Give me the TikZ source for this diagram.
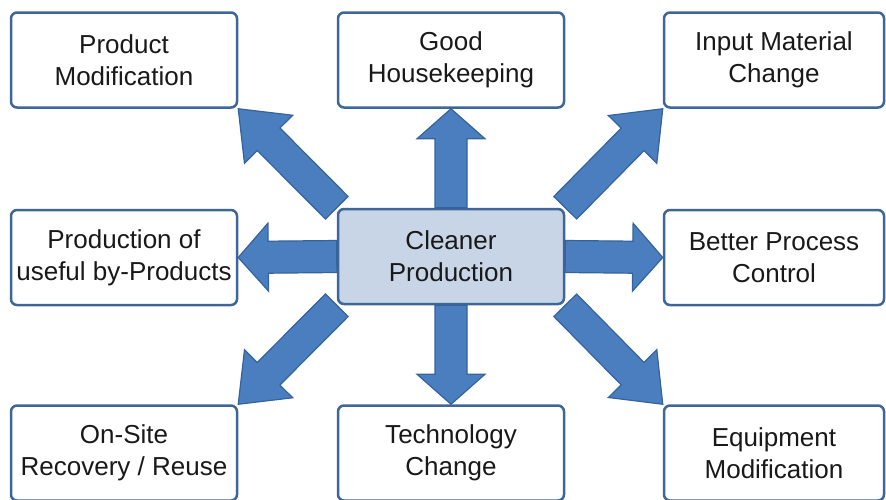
\documentclass[tikz,border=0pt]{standalone}
\usepackage{fontspec}
\setmainfont{Liberation Sans}
\usetikzlibrary{calc}

\definecolor{boxline}{HTML}{3E6699}
\definecolor{arrowfill}{HTML}{4A7EBF}
\definecolor{arrowline}{HTML}{35639B}
\definecolor{corefill}{HTML}{C8D5E7}

% fat block arrow: [head length]{tail}{tip}
\newcommand{\blockarrow}[3][30]{%
  \path ($(#3)!#1pt!(#2)$) coordinate (hb);
  \filldraw[fat arrow] ($(#2)!16pt!90:(#3)$) -- ($(hb)!16pt!-90:(#2)$)
    -- ($(hb)!34pt!-90:(#2)$) -- (#3) -- ($(hb)!34pt!90:(#2)$)
    -- ($(hb)!16pt!90:(#2)$) -- ($(#2)!16pt!-90:(#3)$) -- cycle;
}

\begin{document}
\begin{tikzpicture}[x=1pt, y=-1pt,
  box/.style={draw=boxline, line width=2.5pt, rounded corners=6pt, fill=white,
    minimum width=226pt, minimum height=95pt, inner sep=0pt, align=center,
    font=\fontsize{26}{32}\selectfont, text=black!90},
  rightbox/.style={minimum width=220pt},
  core/.style={box, fill=corefill},
  fat arrow/.style={fill=arrowfill, draw=arrowline, line width=1.2pt, line join=miter}]
  \useasboundingbox (0,0) rectangle (886,499);
  \clip (0,0) rectangle (886,499);

  \node[box] (prod_mod) at (124,60) {Product\\Modification};
  \node[box] (good_house) at (451,60) {Good\\Housekeeping};
  \node[box, rightbox] (input_mat) at (774,60) {Input Material\\Change};

  \node[box] (by_prod) at (124,257.5) {Production of\\useful by-Products};
  \node[core] (cleaner) at (451,256.5) {Cleaner\\Production};
  \node[box, rightbox] (process_ctrl) at (774,257.5) {Better Process\\Control};

  \node[box] (onsite) at (124,453) {On-Site\\Recovery / Reuse};
  \node[box] (tech_change) at (451,453) {Technology\\Change};
  \node[box, rightbox] (equip_mod) at (774,453) {Equipment\\Modification};

  % straight arrows
  \blockarrow{cleaner.north}{good_house.south}
  \blockarrow{cleaner.south}{tech_change.north}
  \blockarrow{cleaner.west}{by_prod.east}
  \blockarrow{cleaner.east}{process_ctrl.west}

  % diagonal arrows
  \blockarrow[43]{cleaner.north west}{prod_mod.south east}
  \blockarrow[43]{cleaner.north east}{input_mat.south west}
  \blockarrow[43]{cleaner.south west}{onsite.north east}
  \blockarrow[43]{cleaner.south east}{equip_mod.north west}
\end{tikzpicture}
\end{document}
